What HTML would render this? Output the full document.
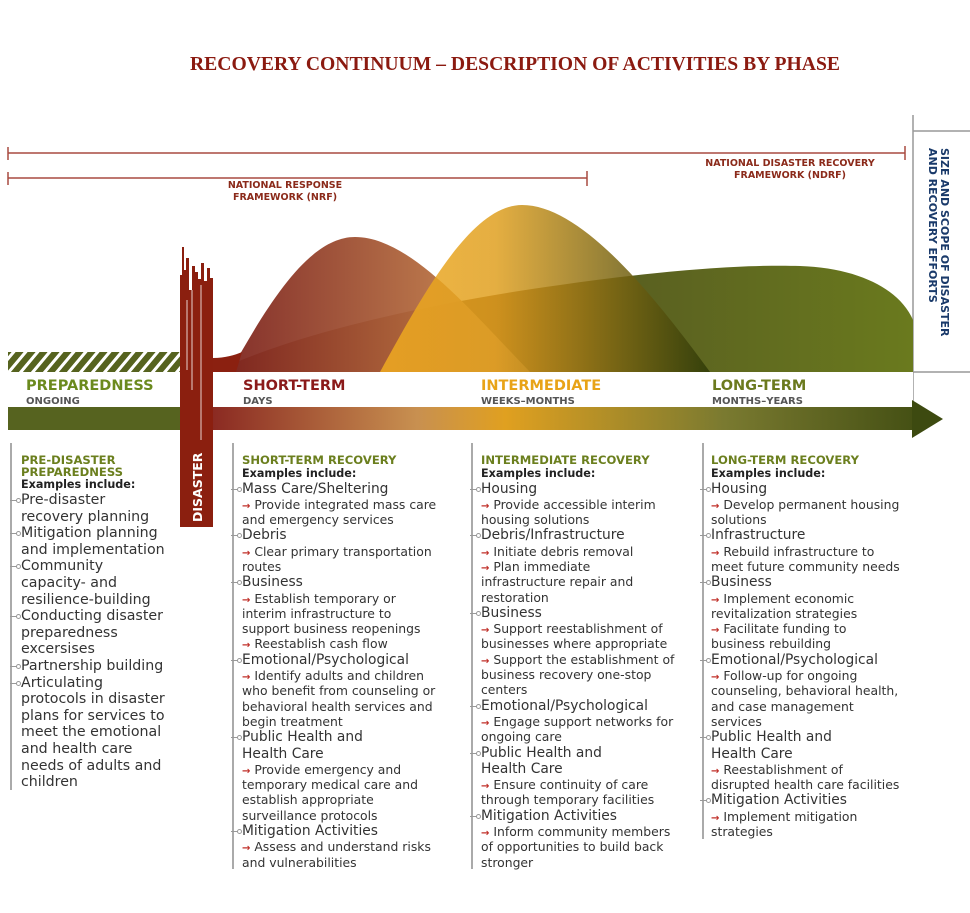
<!DOCTYPE html>
<html><head><meta charset="utf-8"><style>
body{margin:0;background:#fff;width:970px;height:913px;position:relative;overflow:hidden;font-family:"DejaVu Sans","Liberation Sans",sans-serif;}
.col{position:absolute;color:#333;white-space:nowrap;}
.h{color:#6b7f1e;font-weight:bold;font-size:11.6px;line-height:11.5px;}
.ex{color:#222;font-weight:bold;font-size:11.2px;line-height:13px;margin-bottom:1px;}
.m{font-size:13.8px;line-height:16.3px;position:relative;color:#333;}
.m1{font-size:14.2px;line-height:16.6px;position:relative;color:#333;}
.s{font-size:12.4px;line-height:15.3px;color:#333;}
.a{color:#c0302a;font-size:10px;line-height:10px;font-family:"DejaVu Sans",sans-serif;font-weight:bold;}
.k{position:absolute;left:-11px;top:8px;width:8px;height:1px;background:#999;}
.k:after{content:"";position:absolute;right:-3px;top:-2px;width:3px;height:3px;border:1px solid #999;border-radius:50%;background:#fff;}
.vl{position:absolute;width:1.5px;background:#aaa;}
</style></head><body>
<svg width="970" height="913" style="position:absolute;left:0;top:0">
<defs>
<pattern id="hatch" width="12" height="20" patternUnits="userSpaceOnUse" patternTransform="skewX(-40)">
<rect width="12" height="20" fill="#56631f"/><rect x="7" width="4" height="20" fill="#fff"/></pattern>
<linearGradient id="gr" x1="230" x2="530" y1="0" y2="0" gradientUnits="userSpaceOnUse"><stop offset="0" stop-color="#7f2620"/><stop offset="1" stop-color="#cf9050"/></linearGradient>
<linearGradient id="gy" x1="380" x2="710" y1="0" y2="0" gradientUnits="userSpaceOnUse"><stop offset="0" stop-color="#f0aa20"/><stop offset="0.35" stop-color="#e0a020"/><stop offset="1" stop-color="#2e3a08"/></linearGradient>
<linearGradient id="gg" x1="215" x2="913" y1="0" y2="0" gradientUnits="userSpaceOnUse"><stop offset="0" stop-color="#7a2e10"/><stop offset="0.4" stop-color="#6a3a10"/><stop offset="0.6" stop-color="#5a6020"/><stop offset="1" stop-color="#6a7a1e"/></linearGradient>
<linearGradient id="ga" x1="213" x2="943" y1="0" y2="0" gradientUnits="userSpaceOnUse"><stop offset="0" stop-color="#8b2a22"/><stop offset="0.28" stop-color="#c89050"/><stop offset="0.4" stop-color="#e0a020"/><stop offset="0.7" stop-color="#7a7a30"/><stop offset="1" stop-color="#3d4a10"/></linearGradient>
</defs>
<text x="515" y="70" text-anchor="middle" font-family="Liberation Serif,serif" font-weight="bold" font-size="20" fill="#8b1a10" textLength="650" lengthAdjust="spacingAndGlyphs">RECOVERY CONTINUUM – DESCRIPTION OF ACTIVITIES BY PHASE</text>
<g stroke="#a84a40" stroke-width="1.5" fill="none">
<line x1="8" y1="153" x2="905" y2="153"/><line x1="8" y1="147" x2="8" y2="160"/><line x1="905" y1="146" x2="905" y2="160"/>
<line x1="8" y1="178" x2="587" y2="178"/><line x1="8" y1="172" x2="8" y2="185"/><line x1="587" y1="171" x2="587" y2="186"/>
</g>
<g font-family="DejaVu Sans,sans-serif" font-weight="bold" font-size="9.5" fill="#8b2a1a" text-anchor="middle">
<text x="285" y="188">NATIONAL RESPONSE</text><text x="285" y="200">FRAMEWORK (NRF)</text>
<text x="790" y="166">NATIONAL DISASTER RECOVERY</text><text x="790" y="178">FRAMEWORK (NDRF)</text>
</g>
<g stroke="#999" stroke-width="1.5"><line x1="913" y1="115" x2="913" y2="405"/><line x1="913" y1="131" x2="970" y2="131"/><line x1="913" y1="372" x2="970" y2="372"/></g>
<text transform="translate(941,148) rotate(90)" font-family="DejaVu Sans,sans-serif" font-weight="bold" font-size="11" fill="#1a3a6a">SIZE AND SCOPE OF DISASTER</text>
<text transform="translate(929,148) rotate(90)" font-family="DejaVu Sans,sans-serif" font-weight="bold" font-size="11" fill="#1a3a6a">AND RECOVERY EFFORTS</text>
<path d="M215,372 C300,330 450,300 560,285 C650,272 740,264 800,266 C860,268 900,290 913,320 L913,372 Z" fill="url(#gg)"/>
<path d="M230,372 C270,300 310,237 355,237 C410,237 470,310 530,372 Z" fill="url(#gr)" opacity="0.95"/>
<path d="M380,372 C420,300 470,205 522,205 C580,205 650,290 710,372 Z" fill="url(#gy)" opacity="0.85"/>
<rect x="8" y="352" width="172" height="20" fill="url(#hatch)"/>
<path d="M213,358 C225,358 235,355 242,352 L236,372 L213,372Z" fill="#8b2010"/>
<rect x="8" y="372" width="905" height="33" fill="#fff"/>
<rect x="8" y="407" width="172" height="23" fill="#56631f"/>
<rect x="213" y="407" width="700" height="23" fill="url(#ga)"/>
<path d="M912,400 L943,419 L912,438Z" fill="#3d4a10"/>
<path d="M180,275 L182,275 L182,247 L184,247 L184,270 L186,270 L186,258 L189,258 L189,290 L192,290 L192,266 L195,266 L195,272 L198,272 L198,279 L201,279 L201,263 L204,263 L204,281 L207,281 L207,268 L210,268 L210,278 L213,278 L213,527 L180,527Z" fill="#8b1f0f"/>
<g stroke="#fff" stroke-width="1" opacity="0.8"><line x1="192" y1="290" x2="192" y2="390"/><line x1="201" y1="285" x2="201" y2="520"/><line x1="187" y1="300" x2="187" y2="370"/></g>
<rect x="180" y="440" width="33" height="87" fill="#8b1f0f"/>
<text transform="translate(202,522) rotate(-90)" font-family="DejaVu Sans,sans-serif" font-weight="bold" font-size="12.5" fill="#fff">DISASTER</text>
<g font-family="DejaVu Sans,sans-serif" font-weight="bold">
<text x="26" y="390" font-size="14.5" fill="#6b8a1e">PREPAREDNESS</text><text x="26" y="404" font-size="10" fill="#555">ONGOING</text>
<text x="243" y="390" font-size="14.5" fill="#8b1a1a">SHORT-TERM</text><text x="243" y="404" font-size="10" fill="#555">DAYS</text>
<text x="481" y="390" font-size="14.5" fill="#e8a317">INTERMEDIATE</text><text x="481" y="404" font-size="10" fill="#555">WEEKS–MONTHS</text>
<text x="712" y="390" font-size="14.5" fill="#6b7a1e">LONG-TERM</text><text x="712" y="404" font-size="10" fill="#555">MONTHS–YEARS</text>
</g>
</svg>
<div class="vl" style="left:10px;top:443px;height:347px"></div>
<div class="vl" style="left:232px;top:443px;height:426px"></div>
<div class="vl" style="left:471px;top:443px;height:426px"></div>
<div class="vl" style="left:702px;top:443px;height:396px"></div>

<div class="col" style="left:21px;top:455px">
<div class="h">PRE-DISASTER<br>PREPAREDNESS</div><div class="ex">Examples include:</div>
<div class="m1"><span class="k"></span>Pre-disaster<br>recovery planning</div>
<div class="m1"><span class="k"></span>Mitigation planning<br>and implementation</div>
<div class="m1"><span class="k"></span>Community<br>capacity- and<br>resilience-building</div>
<div class="m1"><span class="k"></span>Conducting disaster<br>preparedness<br>excersises</div>
<div class="m1"><span class="k"></span>Partnership building</div>
<div class="m1"><span class="k"></span>Articulating<br>protocols in disaster<br>plans for services to<br>meet the emotional<br>and health care<br>needs of adults and<br>children</div>
</div>

<div class="col" style="left:242px;top:455px">
<div class="h">SHORT-TERM RECOVERY</div><div class="ex">Examples include:</div>
<div class="m"><span class="k"></span>Mass Care/Sheltering</div>
<div class="s"><span class="a">→</span> Provide integrated mass care<br>and emergency services</div>
<div class="m"><span class="k"></span>Debris</div>
<div class="s"><span class="a">→</span> Clear primary transportation<br>routes</div>
<div class="m"><span class="k"></span>Business</div>
<div class="s"><span class="a">→</span> Establish temporary or<br>interim infrastructure to<br>support business reopenings<br><span class="a">→</span> Reestablish cash flow</div>
<div class="m"><span class="k"></span>Emotional/Psychological</div>
<div class="s"><span class="a">→</span> Identify adults and children<br>who benefit from counseling or<br>behavioral health services and<br>begin treatment</div>
<div class="m"><span class="k"></span>Public Health and<br>Health Care</div>
<div class="s"><span class="a">→</span> Provide emergency and<br>temporary medical care and<br>establish appropriate<br>surveillance protocols</div>
<div class="m"><span class="k"></span>Mitigation Activities</div>
<div class="s"><span class="a">→</span> Assess and understand risks<br>and vulnerabilities</div>
</div>

<div class="col" style="left:481px;top:455px">
<div class="h">INTERMEDIATE RECOVERY</div><div class="ex">Examples include:</div>
<div class="m"><span class="k"></span>Housing</div>
<div class="s"><span class="a">→</span> Provide accessible interim<br>housing solutions</div>
<div class="m"><span class="k"></span>Debris/Infrastructure</div>
<div class="s"><span class="a">→</span> Initiate debris removal<br><span class="a">→</span> Plan immediate<br>infrastructure repair and<br>restoration</div>
<div class="m"><span class="k"></span>Business</div>
<div class="s"><span class="a">→</span> Support reestablishment of<br>businesses where appropriate<br><span class="a">→</span> Support the establishment of<br>business recovery one-stop<br>centers</div>
<div class="m"><span class="k"></span>Emotional/Psychological</div>
<div class="s"><span class="a">→</span> Engage support networks for<br>ongoing care</div>
<div class="m"><span class="k"></span>Public Health and<br>Health Care</div>
<div class="s"><span class="a">→</span> Ensure continuity of care<br>through temporary facilities</div>
<div class="m"><span class="k"></span>Mitigation Activities</div>
<div class="s"><span class="a">→</span> Inform community members<br>of opportunities to build back<br>stronger</div>
</div>

<div class="col" style="left:711px;top:455px">
<div class="h">LONG-TERM RECOVERY</div><div class="ex">Examples include:</div>
<div class="m"><span class="k"></span>Housing</div>
<div class="s"><span class="a">→</span> Develop permanent housing<br>solutions</div>
<div class="m"><span class="k"></span>Infrastructure</div>
<div class="s"><span class="a">→</span> Rebuild infrastructure to<br>meet future community needs</div>
<div class="m"><span class="k"></span>Business</div>
<div class="s"><span class="a">→</span> Implement economic<br>revitalization strategies<br><span class="a">→</span> Facilitate funding to<br>business rebuilding</div>
<div class="m"><span class="k"></span>Emotional/Psychological</div>
<div class="s"><span class="a">→</span> Follow-up for ongoing<br>counseling, behavioral health,<br>and case management<br>services</div>
<div class="m"><span class="k"></span>Public Health and<br>Health Care</div>
<div class="s"><span class="a">→</span> Reestablishment of<br>disrupted health care facilities</div>
<div class="m"><span class="k"></span>Mitigation Activities</div>
<div class="s"><span class="a">→</span> Implement mitigation<br>strategies</div>
</div>
</body></html>
